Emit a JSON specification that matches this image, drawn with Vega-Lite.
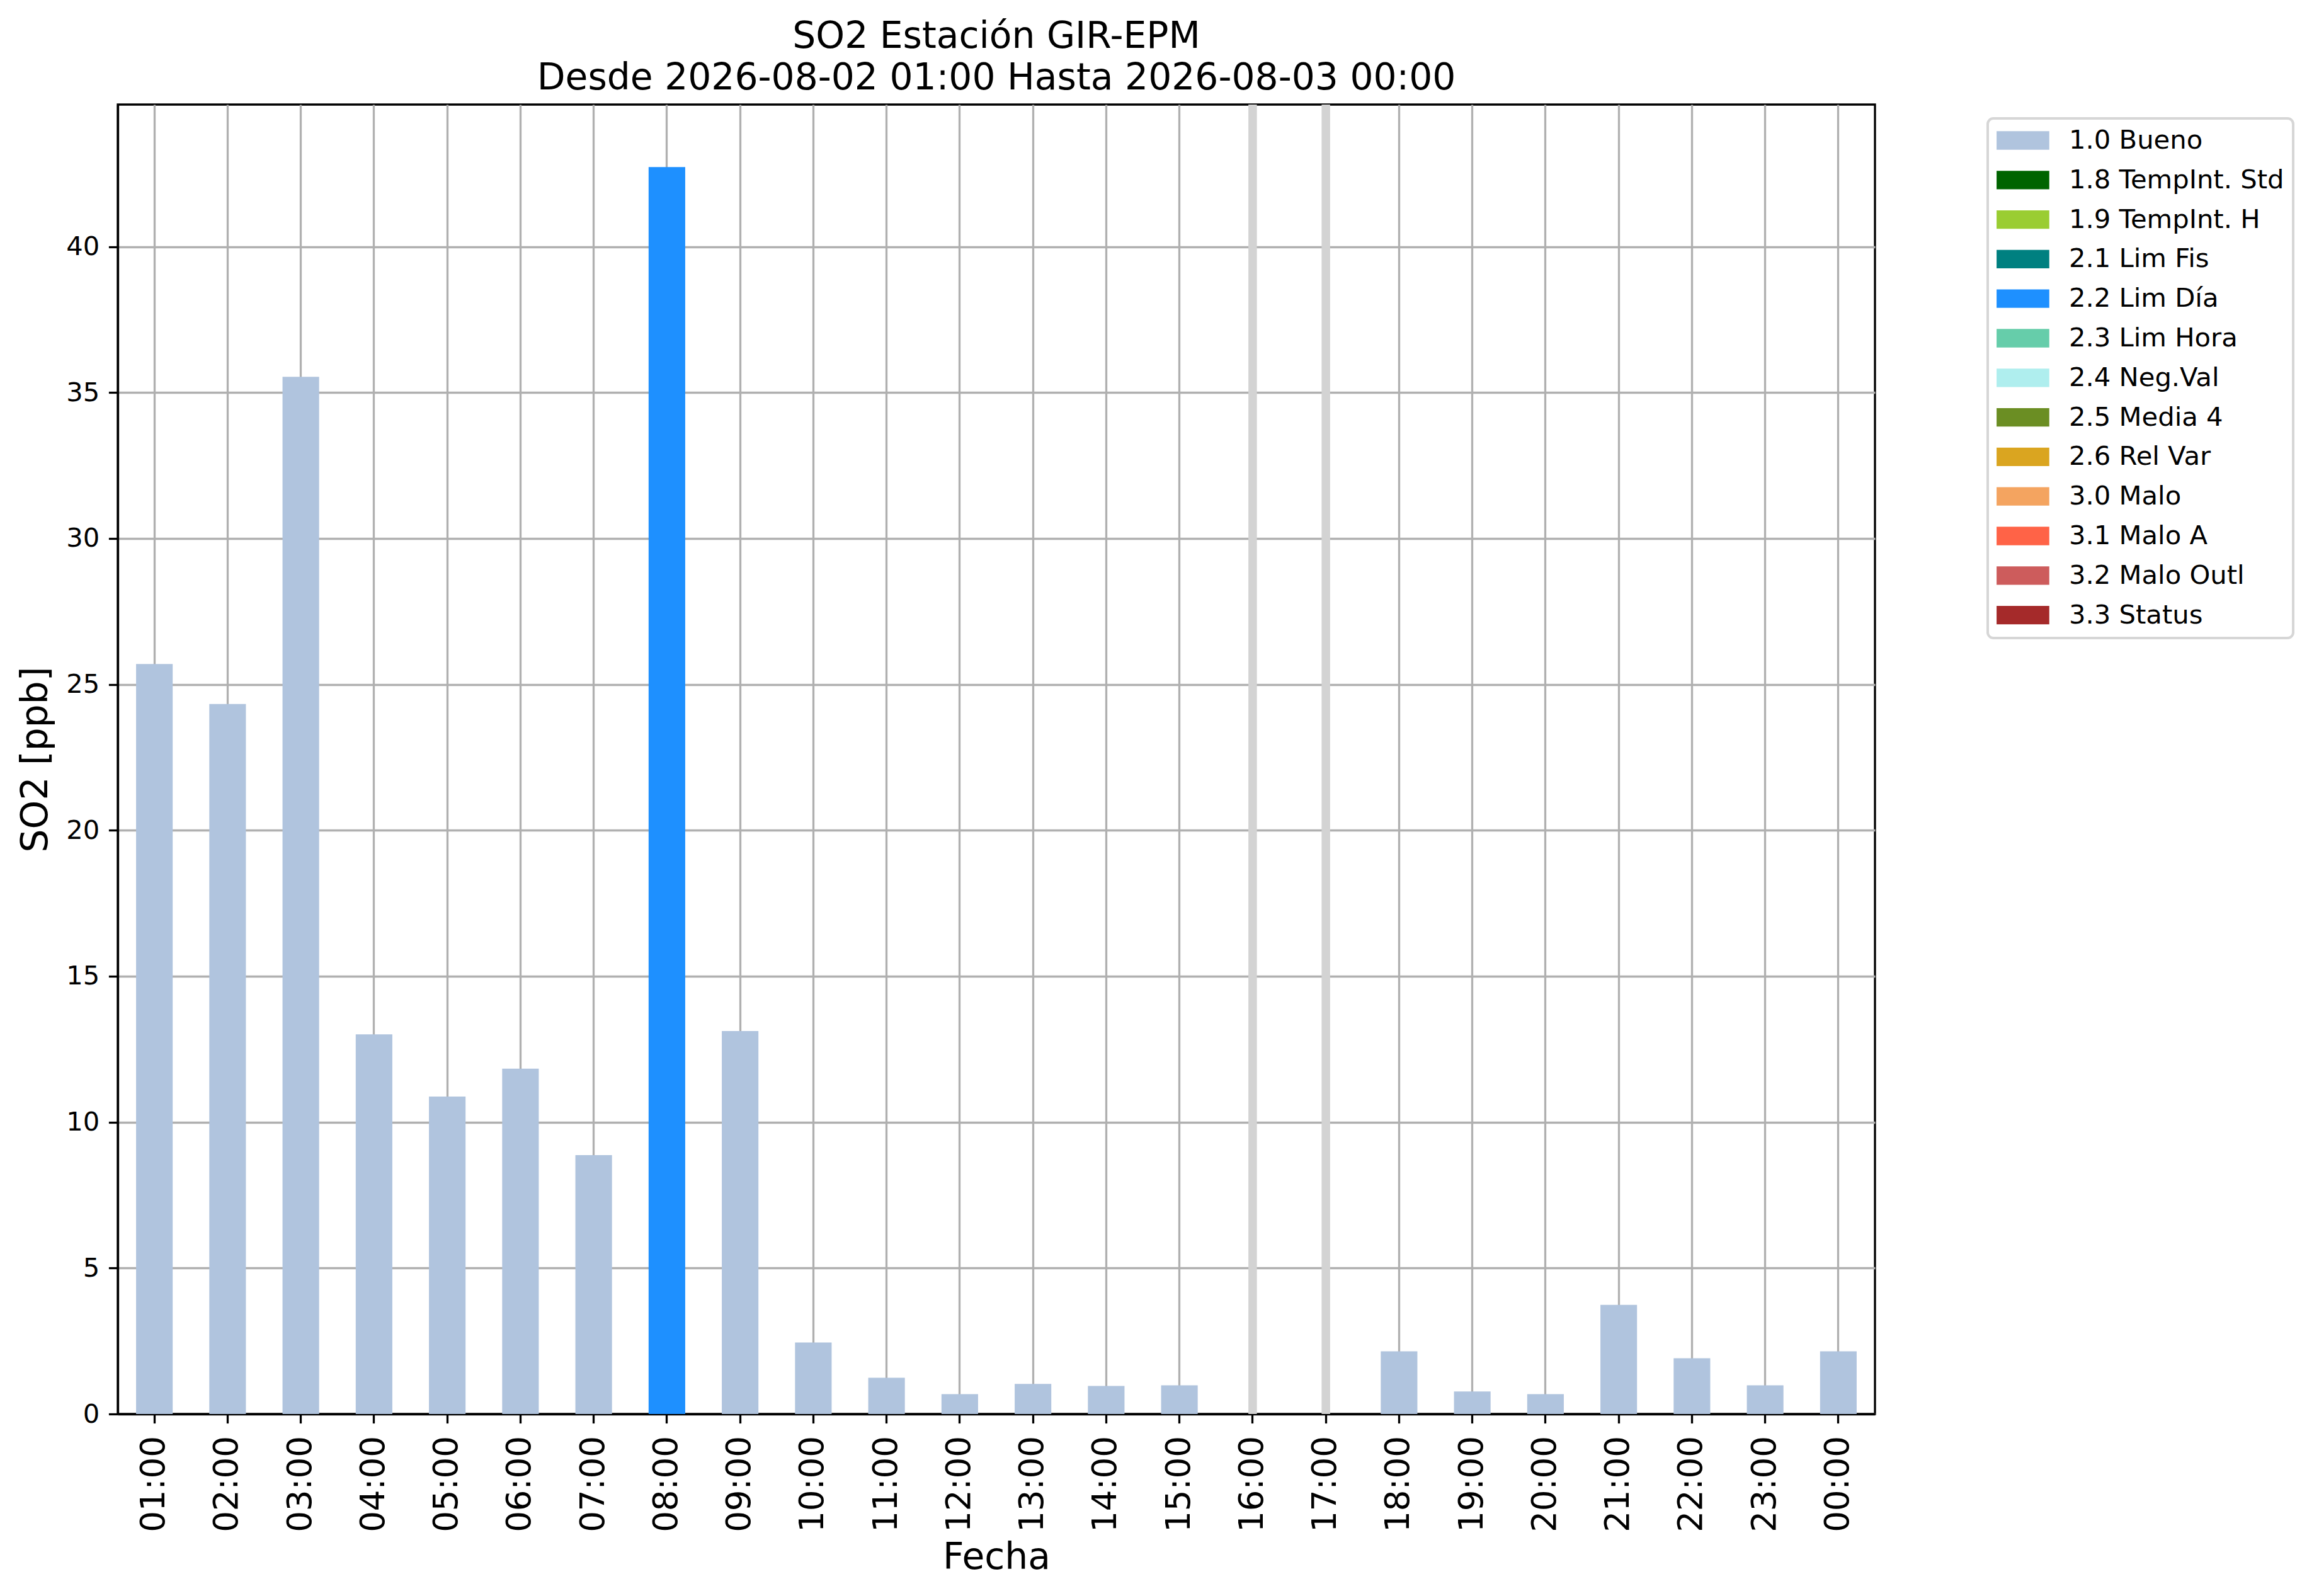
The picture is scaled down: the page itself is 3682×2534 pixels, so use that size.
{
  "$schema": "https://vega.github.io/schema/vega-lite/v6.json",
  "width": 2790,
  "height": 2079,
  "autosize": {"type": "none"},
  "padding": {"left": 187, "top": 166, "right": 705, "bottom": 289},
  "background": "white",
  "config": {
    "font": "DejaVu Sans",
    "view": {"stroke": "black", "strokeWidth": 3.3},
    "axis": {
      "labelColor": "black",
      "titleColor": "black",
      "titleFontWeight": "normal",
      "titleFontSize": 58.3,
      "domainColor": "black",
      "domainWidth": 3.3,
      "tickColor": "black",
      "tickWidth": 3.3,
      "tickSize": 14.6,
      "grid": true,
      "gridColor": "#b0b0b0",
      "gridWidth": 3.3,
      "zindex": 1
    },
    "legend": {"strokeWidth": 4}
  },
  "title": {
    "text": ["SO2 Estación GIR-EPM", "Desde 2026-08-02 01:00 Hasta 2026-08-03 00:00"],
    "fontSize": 58.3,
    "fontWeight": "normal",
    "color": "black",
    "lineHeight": 65.5,
    "anchor": "middle",
    "frame": "group",
    "baseline": "alphabetic",
    "offset": 25,
    "dy": 66
  },
  "data": {
    "values": [
      {"hora": "01:00", "SO2": 25.70, "flag": "1.0 Bueno"},
      {"hora": "02:00", "SO2": 24.33, "flag": "1.0 Bueno"},
      {"hora": "03:00", "SO2": 35.54, "flag": "1.0 Bueno"},
      {"hora": "04:00", "SO2": 13.01, "flag": "1.0 Bueno"},
      {"hora": "05:00", "SO2": 10.88, "flag": "1.0 Bueno"},
      {"hora": "06:00", "SO2": 11.83, "flag": "1.0 Bueno"},
      {"hora": "07:00", "SO2": 8.87, "flag": "1.0 Bueno"},
      {"hora": "08:00", "SO2": 42.73, "flag": "2.2 Lim Día"},
      {"hora": "09:00", "SO2": 13.12, "flag": "1.0 Bueno"},
      {"hora": "10:00", "SO2": 2.45, "flag": "1.0 Bueno"},
      {"hora": "11:00", "SO2": 1.24, "flag": "1.0 Bueno"},
      {"hora": "12:00", "SO2": 0.68, "flag": "1.0 Bueno"},
      {"hora": "13:00", "SO2": 1.03, "flag": "1.0 Bueno"},
      {"hora": "14:00", "SO2": 0.96, "flag": "1.0 Bueno"},
      {"hora": "15:00", "SO2": 0.98, "flag": "1.0 Bueno"},
      {"hora": "16:00", "SO2": null, "flag": null},
      {"hora": "17:00", "SO2": null, "flag": null},
      {"hora": "18:00", "SO2": 2.15, "flag": "1.0 Bueno"},
      {"hora": "19:00", "SO2": 0.77, "flag": "1.0 Bueno"},
      {"hora": "20:00", "SO2": 0.68, "flag": "1.0 Bueno"},
      {"hora": "21:00", "SO2": 3.74, "flag": "1.0 Bueno"},
      {"hora": "22:00", "SO2": 1.91, "flag": "1.0 Bueno"},
      {"hora": "23:00", "SO2": 0.98, "flag": "1.0 Bueno"},
      {"hora": "00:00", "SO2": 2.15, "flag": "1.0 Bueno"}
    ]
  },
  "encoding": {
    "x": {
      "field": "hora",
      "type": "ordinal",
      "sort": null,
      "scale": {
        "domain": ["01:00", "02:00", "03:00", "04:00", "05:00", "06:00", "07:00", "08:00", "09:00", "10:00", "11:00", "12:00", "13:00", "14:00", "15:00", "16:00", "17:00", "18:00", "19:00", "20:00", "21:00", "22:00", "23:00", "00:00"],
        "paddingInner": 0.5,
        "paddingOuter": 0.25
      },
      "axis": {
        "title": "Fecha",
        "labelAngle": 270,
        "labelFontSize": 53,
        "labelPadding": 20,
        "titlePadding": 12,
        "bandPosition": 0.5
      }
    }
  },
  "layer": [
    {
      "transform": [{"filter": "datum.SO2 === null"}],
      "mark": {"type": "rule", "color": "#d3d3d3", "strokeWidth": 13.5},
      "encoding": {}
    },
    {
      "transform": [{"filter": "datum.SO2 !== null"}],
      "mark": {"type": "bar"},
      "encoding": {
        "y": {
          "field": "SO2",
          "type": "quantitative",
          "scale": {"domain": [0, 44.87], "nice": false, "zero": true},
          "axis": {
            "title": "SO2 [ppb]",
            "values": [0, 5, 10, 15, 20, 25, 30, 35, 40],
            "labelFontSize": 41.7,
            "labelPadding": 14.6,
            "titlePadding": 18
          }
        },
        "color": {
          "field": "flag",
          "type": "nominal",
          "scale": {
            "domain": ["1.0 Bueno", "1.8 TempInt. Std", "1.9 TempInt. H", "2.1 Lim Fis", "2.2 Lim Día", "2.3 Lim Hora", "2.4 Neg.Val", "2.5 Media 4", "2.6 Rel Var", "3.0 Malo", "3.1 Malo A", "3.2 Malo Outl", "3.3 Status"],
            "range": ["#b0c4de", "#006400", "#9acd32", "#008080", "#1e90ff", "#66cdaa", "#afeeee", "#6b8e23", "#daa520", "#f4a460", "#ff6347", "#cd5c5c", "#a52a2a"]
          },
          "legend": {
            "title": null,
            "orient": "none",
            "legendX": 2969,
            "legendY": 22,
            "symbolType": "M-1,-0.7L3,-0.7L3,0.7L-1,0.7Z",
            "symbolSize": 1750,
            "symbolStrokeWidth": 0,
            "symbolOpacity": 1,
            "labelFontSize": 41.7,
            "labelColor": "black",
            "labelOffset": 73,
            "labelLimit": 1000,
            "rowPadding": 19.8,
            "padding": 14,
            "strokeColor": "#d6d6d6",
            "cornerRadius": 9,
            "fillColor": "white"
          }
        }
      }
    }
  ]
}
